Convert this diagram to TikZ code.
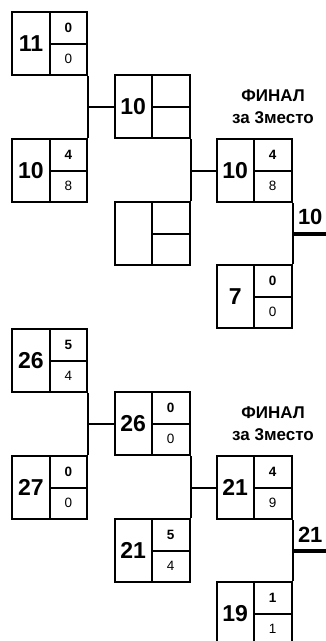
\documentclass[tikz,border=0pt]{standalone}
\usepackage{fontspec}
\setmainfont{Liberation Sans}
\begin{document}
\begin{tikzpicture}[x=1pt,y=-1pt, line width=2pt,
  mbox/.style={draw, rectangle, minimum width=75pt, minimum height=63pt, inner sep=0pt, line width=2pt},
  big/.style={font=\bfseries\fontsize{23}{23}\selectfont, inner sep=0pt},
  smt/.style={font=\bfseries\fontsize{13.5}{14}\selectfont, inner sep=0pt},
  smb/.style={font=\fontsize{13.5}{14}\selectfont, inner sep=0pt},
  ttl/.style={font=\bfseries\fontsize{17}{17}\selectfont, inner sep=0pt},
  res/.style={font=\bfseries\fontsize{22}{22}\selectfont, inner sep=0pt, anchor=base west},
  win/.style={line width=4pt}]
\clip (0,0) rectangle (326,641);
\newcommand\matchbox[6]{%
  \node[mbox] (#1) at (#2,#3) {};
  \draw (#1.north) -- (#1.south);
  \draw (#1.center) -- (#1.east);
  \node[big] (#1-n) at ([xshift=-18.75pt]#1.center) {#4};
  \node[smt] (#1-t) at ([xshift=18.75pt,yshift=15.75pt]#1.center) {#5};
  \node[smb] (#1-b) at ([xshift=18.75pt,yshift=-15.75pt]#1.center) {#6};
}
% top bracket
\matchbox{a}{49.75}{43.5}{11}{0}{0}
\matchbox{b}{49.75}{170.5}{10}{4}{8}
\matchbox{c}{152}{106.5}{10}{}{}
\matchbox{d}{152}{233.5}{}{}{}
\matchbox{e}{254}{170.5}{10}{4}{8}
\matchbox{f}{254}{296.5}{7}{0}{0}
\draw (a.south east) -- (b.north east);
\draw (a.south east |- c.west) -- (c.west);
\draw (c.south east) -- (d.north east);
\draw (c.south east |- e.west) -- (e.west);
\draw (e.south east) -- (f.north east);
\coordinate (w1) at (326,233.5);
\draw[win] (e.south east |- w1) -- (w1);
\node[res] (r1) at (297,224.5) {10};
\node[ttl] (t1) at (273,96) {ФИНАЛ};
\node[ttl] (t1b) at (273,118) {за 3место};
% bottom bracket
\matchbox{g}{49.75}{360.5}{26}{5}{4}
\matchbox{h}{49.75}{487.5}{27}{0}{0}
\matchbox{i}{152}{423.5}{26}{0}{0}
\matchbox{j}{152}{550.5}{21}{5}{4}
\matchbox{k}{254}{487.5}{21}{4}{9}
\matchbox{l}{254}{613.5}{19}{1}{1}
\draw (g.south east) -- (h.north east);
\draw (g.south east |- i.west) -- (i.west);
\draw (i.south east) -- (j.north east);
\draw (i.south east |- k.west) -- (k.west);
\draw (k.south east) -- (l.north east);
\coordinate (w2) at (326,550.5);
\draw[win] (k.south east |- w2) -- (w2);
\node[res] (r2) at (297,542) {21};
\node[ttl] (t2) at (273,413) {ФИНАЛ};
\node[ttl] (t2b) at (273,435) {за 3место};
\end{tikzpicture}
\end{document}
